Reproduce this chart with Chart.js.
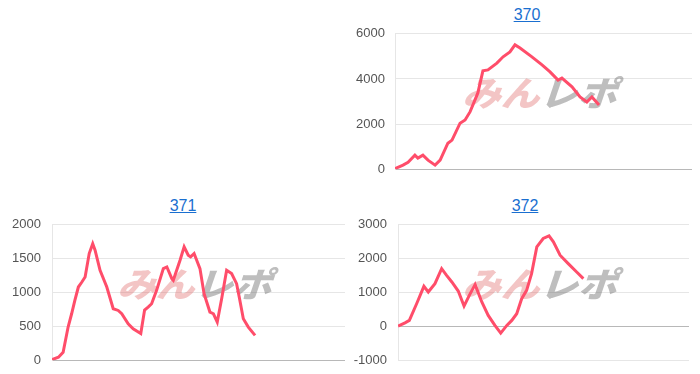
<!DOCTYPE html>
<html lang="ja">
<head>
  <meta charset="UTF-8">
  <title>370 / 371 / 372</title>
  <script src="https://cdn.jsdelivr.net/npm/chart.js"></script>
  <style>
    body {
      margin: 0;
      padding: 0;
      background: #fff;
      width: 700px;
      height: 374px;
      position: relative;
      overflow: hidden;
      font-family: "Liberation Sans", Arial, sans-serif;
    }
    .title {
      position: absolute;
      width: 100px;
      text-align: center;
      font-size: 16px;
      color: #1a6fd0;
      text-decoration: underline;
    }
    canvas {
      position: absolute;
    }
  </style>
</head>
<body>

  <a class="title" style="left:477px; top:6px;">370</a>
  <a class="title" style="left:133px; top:197px;">371</a>
  <a class="title" style="left:475px; top:197px;">372</a>

  <!-- the y tick padding is added above and below the plot, so the canvases are taller than the plots -->
  <canvas id="c370" width="350" height="171" style="left:350px; top:16px;"></canvas>
  <canvas id="c371" width="350" height="173" style="left:0px; top:206px;"></canvas>
  <canvas id="c372" width="350" height="173" style="left:350px; top:206px;"></canvas>

  <script>
    // data (x = position along the run, 0..100)
    const xs370 = [0, 2.7, 4.4, 6.7, 7.7, 9.4, 11.1, 13.5, 15.2, 17.8, 19.2, 21.9, 23.6, 25.3, 27.9, 29.6, 31.3, 34.3, 36.4, 38.7, 40.4, 42.1, 46.1, 49.5, 52.2, 54.9, 56.2, 59.6, 62.3, 64.6, 66.3, 68.7];
    const ys370 = [30, 180, 310, 620, 490, 620, 400, 180, 400, 1150, 1290, 2040, 2180, 2550, 3380, 4360, 4400, 4700, 4980, 5200, 5510, 5370, 4980, 4620, 4310, 3950, 4040, 3650, 3200, 2980, 3200, 2840];

    const xs371 = [0, 2.2, 3.8, 5.5, 6.7, 7.8, 9.0, 10.2, 11.3, 12.7, 13.9, 14.7, 16.4, 18.7, 20.9, 22.6, 23.8, 26.0, 27.7, 30.3, 31.6, 32.8, 34.0, 35.7, 38.0, 39.2, 40.9, 41.4, 43.7, 45.1, 46.5, 47.3, 48.5, 50.5, 51.9, 53.9, 55.1, 56.4, 57.9, 59.6, 61.3, 63.0, 63.9, 65.3, 67.0, 69.3];
    const ys371 = [10, 44, 118, 490, 686, 884, 1081, 1155, 1230, 1575, 1720, 1625, 1328, 1081, 760, 735, 686, 538, 464, 395, 740, 785, 834, 1032, 1353, 1378, 1205, 1180, 1477, 1674, 1551, 1526, 1575, 1353, 982, 711, 686, 563, 908, 1328, 1279, 1130, 933, 612, 489, 366];

    const xs372 = [0, 2.4, 3.9, 6.4, 8.9, 10.4, 12.7, 15.0, 16.7, 18.5, 20.7, 22.7, 24.5, 26.5, 28.8, 31.0, 33.3, 35.3, 37.4, 39.1, 40.8, 42.5, 44.2, 45.9, 47.7, 49.9, 51.9, 53.4, 55.7, 58.5, 61.4, 63.7];
    const ys372 = [7, 105, 175, 668, 1183, 1015, 1261, 1706, 1508, 1311, 1044, 600, 916, 1232, 719, 324, 28, -200, 28, 175, 372, 816, 1064, 1557, 2348, 2595, 2674, 2496, 2101, 1853, 1607, 1409];

    const lineColor = '#ff4d6a';

    // faint "みんレポ" mark behind the line
    const watermark = {
      id: 'watermark',
      beforeDatasetsDraw(chart) {
        const a = chart.chartArea;
        const cx = (a.left + a.right) / 2;
        const cy = (a.top + a.bottom) / 2 - 9;
        const c = chart.ctx;
        c.save();
        c.font = '900 36px "Noto Sans CJK JP", sans-serif';
        c.textBaseline = 'middle';
        const w1 = c.measureText('みん').width;
        const w2 = c.measureText('レポ').width;
        const total = w1 + w2;
        c.translate(cx, cy);
        c.scale(165 / (total + 10), 0.95);
        c.transform(1, 0, -0.3, 1, 0, 0);
        c.fillStyle = 'rgba(225, 110, 110, 0.4)';
        c.fillText('みん', -total / 2, 0);
        c.fillStyle = 'rgba(110, 110, 110, 0.45)';
        c.fillText('レポ', -total / 2 + w1, 0);
        c.restore();
      }
    };

    function makeChart(id, xs, ys, min, max, step, axisWidth, padRight, tickPad) {
      const points = xs.map((x, i) => ({ x: x, y: ys[i] }));
      return new Chart(document.getElementById(id), {
        type: 'line',
        data: {
          datasets: [{
            data: points,
            borderColor: lineColor,
            borderWidth: 3,
            pointRadius: 0,
            fill: false,
            tension: 0
          }]
        },
        options: {
          responsive: false,
          animation: false,
          layout: { padding: { top: 0, bottom: 0, right: padRight, left: 0 } },
          plugins: {
            legend: { display: false },
            tooltip: { enabled: false }
          },
          scales: {
            x: { type: 'linear', min: 0, max: 100, display: false },
            y: {
              min: min,
              max: max,
              afterFit: s => { s.width = axisWidth; },
              ticks: {
                stepSize: step,
                padding: tickPad,
                color: '#555',
                font: { family: '"Liberation Sans", Arial, sans-serif', size: 13 },
                callback: v => String(v)
              },
              grid: {
                drawTicks: false,
                color: ctx => (ctx.tick && ctx.tick.value === 0) ? '#b8b8b8' : '#e6e6e6'
              },
              border: { display: true, color: '#e6e6e6' }
            }
          }
        },
        plugins: [watermark]
      });
    }

    makeChart('c370', xs370, ys370, 0, 6000, 2000, 45, 8, 10);
    makeChart('c371', xs371, ys371, 0, 2000, 500, 52, 5, 11);
    makeChart('c372', xs372, ys372, -1000, 3000, 1000, 48, 11, 11);
  </script>
</body>
</html>
